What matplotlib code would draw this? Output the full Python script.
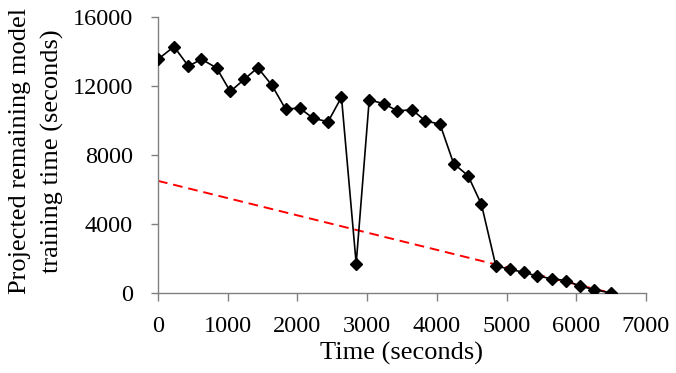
import matplotlib
matplotlib.use("Agg")
import matplotlib.pyplot as plt

time_s = [0, 230, 437, 624, 840, 1037, 1239, 1431, 1633, 1830, 2032, 2229, 2440,
          2632, 2843, 3030, 3238, 3434, 3646, 3837, 4045, 4241, 4448, 4640, 4846,
          5048, 5249, 5442, 5648, 5850, 6052, 6254, 6500]
remaining = [13550, 14280, 13150, 13550, 13050, 11680, 12390, 13060, 12050, 10660,
             10720, 10120, 9930, 11350, 1700, 11200, 10970, 10560, 10620, 9970,
             9790, 7500, 6800, 5130, 1580, 1370, 1200, 980, 830, 720, 405, 200, 0]
ideal_x = [0, 6500]
ideal_y = [6500, 0]

plt.rcParams['font.family'] = ['Liberation Serif', 'DejaVu Serif']
fig = plt.figure(figsize=(6.76, 3.73), dpi=100)
ax = fig.add_axes([0.2337, 0.2145, 0.7219, 0.74])

ax.plot(ideal_x, ideal_y, color='#ff0000', linestyle=(0, (5, 3)), linewidth=1.4, zorder=2)
ax.plot(time_s, remaining, color='black', linewidth=1.2, marker='D', markersize=6, zorder=3)

ax.set_xlim(0, 7000)
ax.set_ylim(0, 16000)
ax.set_xticks(range(0, 7001, 1000))
ax.set_yticks(range(0, 16001, 4000))
for s in ['top', 'right']:
    ax.spines[s].set_visible(False)
for s in ['left', 'bottom']:
    ax.spines[s].set_color('#808080')
    ax.spines[s].set_linewidth(1.0)
ax.tick_params(axis='both', direction='out', length=5.4, width=1.0, color='#808080',
               labelsize=17.5)
ax.tick_params(axis='y', pad=12.5)
ax.tick_params(axis='x', pad=11)
ax.set_xlabel('Time (seconds)', fontsize=19, labelpad=3.5)
ax.set_ylabel('Projected remaining model\ntraining time (seconds)', fontsize=19,
              labelpad=6, linespacing=1.58)
ax.yaxis.label.set_y(0.514)

fig.savefig('out.png', dpi=100)
